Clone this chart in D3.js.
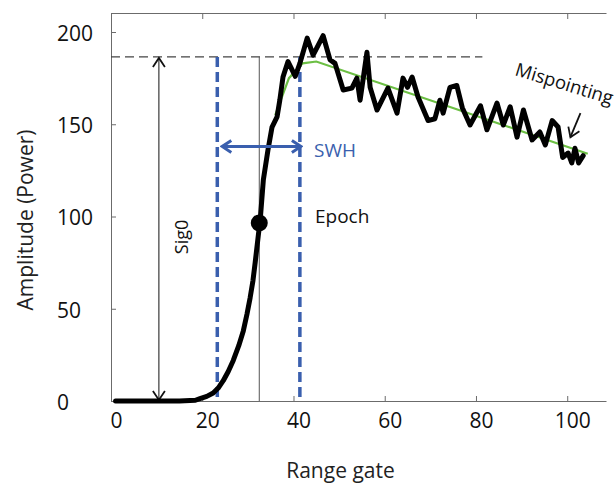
<!DOCTYPE html>
<html>
<head>
<meta charset="utf-8">
<script src="https://cdn.jsdelivr.net/npm/d3@7"></script>
<style>
body { margin: 0; background: #fff; }
svg { font-family: "Open Sans", sans-serif; }
.axis path, .axis line { stroke: #6b6b6b; }
</style>
</head>
<body>
<script>
var width = 616, height = 485;
var margin = {top: 13, right: 10, bottom: 84, left: 111};

// waveform
var gates = [1, 5, 10, 15, 18.5, 19.5, 21, 22.4, 23.5, 24.6, 25.7, 26.8, 28, 29, 29.8, 30.5, 31.1, 31.6, 32.3, 32.7,
  33.4, 34.4, 35.3, 36.4, 37, 37.7, 38.8, 40.4, 41.4, 43, 44.3, 46.5, 48, 49.1, 50.9, 52.8, 53.9, 54.6, 56.1, 56.8,
  58.3, 60.7, 62.7, 64, 65, 66, 67.3, 69.5, 71, 72.1, 72.8, 74.3, 75.8, 77, 78.7, 81, 82.4, 84.6, 86, 87.5,
  89, 90.4, 92.3, 94, 95.2, 96.7, 98, 99, 100.2, 101, 101.7, 102.5, 103.5];
var power = [0, 0, 0, 0, 0.4, 1.3, 2.5, 4.3, 7, 11, 16, 22, 30, 38, 47, 56, 65, 75, 90, 98,
  120, 136, 148.5, 154, 163, 175.6, 184, 176, 183, 196.7, 187.5, 198, 185, 183, 168.6, 169.6, 175, 163, 189, 170,
  157.7, 169.6, 156, 175, 170, 175.6, 164.8, 152, 153, 163, 156, 170, 171, 159, 149.6, 160, 147, 161.5, 149.6, 159.5,
  143, 157.7, 141.5, 145.8, 138.8, 152, 148.5, 132, 134.4, 129, 137, 129, 133];

// fitted model (green)
var fitGates = [36, 39, 42, 45, 104.5];
var fitPower = [155, 175, 183, 184, 134];

var xTicks = [0, 20, 40, 60, 80, 100];
var yTicks = [0, 50, 100, 150, 200];

// annotation values
var sig0 = 186.5, sig0Gate = 10.5, sig0LineEnd = 81.4;
var swhStart = 23.3, swhEnd = 41.4, swhLevel = 138;
var epochGate = 32.5, epochPower = 96.5;
var misFrom = [102.9, 156], misTo = [100.7, 143];

var x = d3.scaleLinear().domain([0, 108.5]).range([margin.left, width - margin.right]);
var y = d3.scaleLinear().domain([0, 210.3]).range([height - margin.bottom, margin.top]);

var svg = d3.select("body").append("svg")
  .attr("width", width)
  .attr("height", height);

var defs = svg.append("defs");
function chevron(id, color, w) {
  defs.append("marker")
    .attr("id", id)
    .attr("markerUnits", "userSpaceOnUse")
    .attr("viewBox", "-12 -8 14 16")
    .attr("markerWidth", 14).attr("markerHeight", 16)
    .attr("refX", 0).attr("refY", 0)
    .attr("orient", "auto-start-reverse")
    .append("path")
    .attr("d", "M-9,-6L0,0L-9,6")
    .attr("fill", "none")
    .attr("stroke", color)
    .attr("stroke-width", w);
}
chevron("arrBlack", "#111", 1.8);
chevron("arrBlue", "#3a5fae", 3);

// axes
svg.append("g").attr("class", "axis")
  .attr("transform", "translate(0," + y(0) + ")")
  .call(d3.axisBottom(x).tickValues(xTicks).tickSizeInner(-5).tickSizeOuter(0))
  .call(function(g) {
    g.selectAll("text").attr("x", 5).attr("y", 12)
      .attr("font-size", 21).attr("fill", "#111").attr("font-family", "Open Sans");
  });

svg.append("g").attr("class", "axis")
  .attr("transform", "translate(0," + margin.top + ")")
  .call(d3.axisTop(x).tickValues(xTicks).tickSizeInner(-6).tickSizeOuter(0).tickFormat(""));

svg.append("g").attr("class", "axis")
  .attr("transform", "translate(" + margin.left + ",0)")
  .call(d3.axisLeft(y).tickValues(yTicks).tickSizeInner(-5).tickSizeOuter(0))
  .call(function(g) {
    g.selectAll("text").attr("x", -54).attr("dy", "0.4em").attr("text-anchor", "start")
      .attr("font-size", 21).attr("fill", "#111").attr("font-family", "Open Sans");
  });

svg.append("text")
  .attr("x", (x(0) + x(108.5)) / 2 - 18).attr("y", 478)
  .attr("text-anchor", "middle").attr("font-size", 21).attr("fill", "#222")
  .text("Range gate");

svg.append("text")
  .attr("transform", "translate(33,220)rotate(-90)")
  .attr("text-anchor", "middle").attr("font-size", 21).attr("fill", "#222")
  .text("Amplitude (Power)");

// Sig0 level and arrow
svg.append("line")
  .attr("x1", x(0)).attr("x2", x(sig0LineEnd))
  .attr("y1", y(sig0)).attr("y2", y(sig0))
  .attr("stroke", "#444").attr("stroke-width", 1.2).attr("stroke-dasharray", "9,5");

svg.append("line")
  .attr("x1", x(sig0Gate)).attr("x2", x(sig0Gate))
  .attr("y1", y(sig0) + 1).attr("y2", y(0) - 1)
  .attr("stroke", "#111").attr("stroke-width", 1)
  .attr("marker-start", "url(#arrBlack)").attr("marker-end", "url(#arrBlack)");

svg.append("text")
  .attr("transform", "translate(188,237)rotate(-90)")
  .attr("text-anchor", "middle").attr("font-size", 18).attr("fill", "#111")
  .text("Sig0");

// epoch line
svg.append("line")
  .attr("x1", x(epochGate)).attr("x2", x(epochGate))
  .attr("y1", y(sig0)).attr("y2", y(0))
  .attr("stroke", "#555").attr("stroke-width", 1);

// SWH dashed lines
svg.selectAll(".swh")
  .data([swhStart, swhEnd]).enter()
  .append("line")
  .attr("class", "swh")
  .attr("x1", function(d) { return x(d); }).attr("x2", function(d) { return x(d); })
  .attr("y1", y(sig0)).attr("y2", y(0))
  .attr("stroke", "#3a5fae").attr("stroke-width", 3.5).attr("stroke-dasharray", "10,5");

// model fit
var line = d3.line()
  .x(function(d) { return x(d[0]); })
  .y(function(d) { return y(d[1]); });

svg.append("path")
  .datum(d3.zip(fitGates, fitPower))
  .attr("d", line)
  .attr("fill", "none").attr("stroke", "#6cbf44").attr("stroke-width", 2.2);

// waveform
svg.append("path")
  .datum(d3.zip(gates, power))
  .attr("d", line)
  .attr("fill", "none").attr("stroke", "#000").attr("stroke-width", 5)
  .attr("stroke-linejoin", "round").attr("stroke-linecap", "round");

// SWH arrow
svg.append("line")
  .attr("x1", x(swhStart) + 5).attr("x2", x(swhEnd) + 1)
  .attr("y1", y(swhLevel)).attr("y2", y(swhLevel))
  .attr("stroke", "#3a5fae").attr("stroke-width", 3)
  .attr("marker-start", "url(#arrBlue)").attr("marker-end", "url(#arrBlue)");

svg.append("text")
  .attr("x", 314).attr("y", 157)
  .attr("font-size", 19).attr("fill", "#3a5fae")
  .text("SWH");

// epoch point
svg.append("circle")
  .attr("cx", x(epochGate)).attr("cy", y(epochPower))
  .attr("r", 8.5).attr("fill", "#000");

svg.append("text")
  .attr("x", 315).attr("y", 223)
  .attr("font-size", 19).attr("fill", "#111")
  .text("Epoch");

// mispointing
svg.append("text")
  .attr("transform", "translate(514,75)rotate(17)")
  .attr("font-size", 18.5).attr("fill", "#111")
  .text("Mispointing");

svg.append("line")
  .attr("x1", x(misFrom[0])).attr("y1", y(misFrom[1]))
  .attr("x2", x(misTo[0])).attr("y2", y(misTo[1]))
  .attr("stroke", "#111").attr("stroke-width", 1.8)
  .attr("marker-end", "url(#arrBlack)");
</script>
</body>
</html>
